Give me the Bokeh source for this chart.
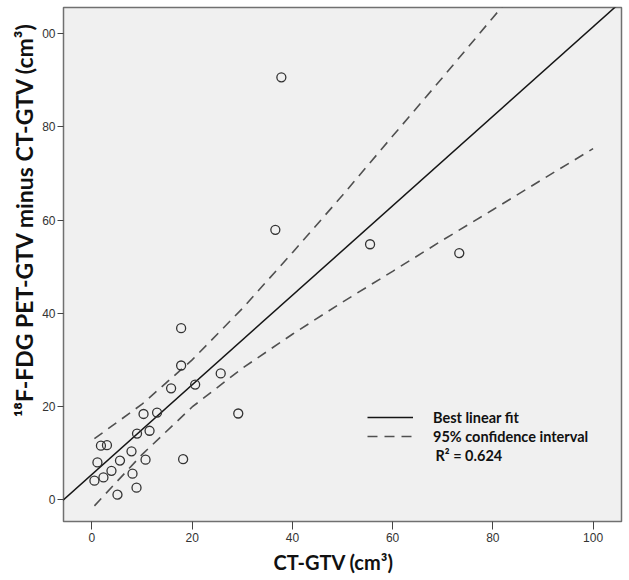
from bokeh.plotting import figure
from bokeh.models import FixedTicker, Label, Legend, LegendItem, Range1d, Title
from bokeh.embed import file_html
from bokeh.resources import INLINE

# ---- data ----
ct_gtv = [17.8, 17.8, 15.8, 20.6, 25.7, 10.3, 13.0, 29.2, 9.0, 11.5, 1.8, 3.0,
          1.1, 5.6, 7.9, 10.7, 18.2, 3.9, 2.3, 0.5, 8.1, 8.9, 5.1,
          37.8, 36.6, 55.5, 73.3]
pet_minus_ct = [36.8, 28.8, 23.9, 24.7, 27.1, 18.4, 18.7, 18.5, 14.2, 14.8, 11.6, 11.7,
                8.0, 8.4, 10.4, 8.6, 8.7, 6.2, 4.8, 4.1, 5.6, 2.6, 1.1,
                90.6, 57.9, 54.8, 52.9]

fit_x = [-6, 106]
fit_y = [-0.3, 107.2]

ci_x = [0.5, 10, 20, 30, 40, 50, 60, 70, 80, 90, 100]
ci_upper = [13.1, 20.5, 30.0, 41.0, 53.0, 65.3, 78.0, 90.6, 103.4, 116.0, 128.5]
ci_lower = [-1.3, 9.7, 19.9, 28.2, 35.5, 42.4, 49.0, 55.7, 62.2, 68.8, 75.3]

x_ticks = [0, 20, 40, 60, 80, 100]
y_ticks = [0, 20, 40, 60, 80, 100]
y_tick_labels = {0: "0", 20: "20", 40: "40", 60: "60", 80: "80", 100: "00"}

x_title = "CT-GTV (cm³)"
y_title = "¹⁸F-FDG PET-GTV minus CT-GTV (cm³)"
legend_fit = "Best linear fit"
legend_ci = "95% confidence interval"
r2_text = "R² = 0.624"

# ---- figure ----
p = figure(width=629, height=580, output_backend="svg", toolbar_location=None,
           x_range=Range1d(-5.67, 105.67), y_range=Range1d(-4.66, 105.58),
           min_border_left=63, min_border_right=8, min_border_top=7, min_border_bottom=59)
p.background_fill_color = "#f0f0f0"
p.border_fill_color = "white"
p.outline_line_color = "#707070"
p.outline_line_width = 1.5
p.grid.visible = False

for ax in (p.xaxis[0], p.yaxis[0]):
    ax.axis_line_color = None
    ax.major_tick_in = 0
    ax.minor_tick_line_color = None
    ax.major_tick_line_color = "#444444"
    ax.major_label_text_font = "Liberation Sans"
    ax.major_label_text_font_size = "12px"
    ax.major_label_text_color = "#333333"
p.xaxis[0].ticker = FixedTicker(ticks=x_ticks)
p.yaxis[0].ticker = FixedTicker(ticks=y_ticks)
p.yaxis[0].major_label_overrides = y_tick_labels
p.xaxis[0].major_tick_out = 8
p.yaxis[0].major_tick_out = 6
p.xaxis[0].major_label_standoff = 3
p.yaxis[0].major_label_standoff = 2

r_fit = p.line(fit_x, fit_y, line_color="#151515", line_width=1.5)
r_up = p.line(ci_x, ci_upper, line_color="#505050", line_width=1.6, line_dash="10 7")
p.line(ci_x, ci_lower, line_color="#505050", line_width=1.6, line_dash="10 7")
p.scatter(ct_gtv, pet_minus_ct, marker="circle", size=9, fill_color=None,
          line_color="#333333", line_width=1.3)

legend = Legend(items=[LegendItem(label=legend_fit, renderers=[r_fit]),
                       LegendItem(label=legend_ci, renderers=[r_up])],
                location=(304, 76), background_fill_alpha=0, border_line_color=None,
                padding=0, margin=0, spacing=1, glyph_width=46, glyph_height=18,
                label_height=18, label_standoff=20,
                label_text_font="Lato", label_text_font_style="bold",
                label_text_font_size="14.5px", label_text_color="#111111")
p.add_layout(legend, "center")

p.add_layout(Label(x=372, y=66, x_units="screen", y_units="screen", text=r2_text,
                   text_font="Lato", text_font_style="bold", text_font_size="14.5px",
                   text_color="#111111", text_baseline="middle"))

p.add_layout(Title(text=y_title, align="right", offset=15, standoff=4,
                   text_font="Lato", text_font_style="bold", text_font_size="23px",
                   text_color="#111111"), "left")
p.add_layout(Title(text=x_title, align="left", offset=210, standoff=6,
                   text_font="Lato", text_font_style="bold", text_font_size="20px",
                   text_color="#111111"), "below")

open("out.html", "w").write(file_html(p, INLINE))
